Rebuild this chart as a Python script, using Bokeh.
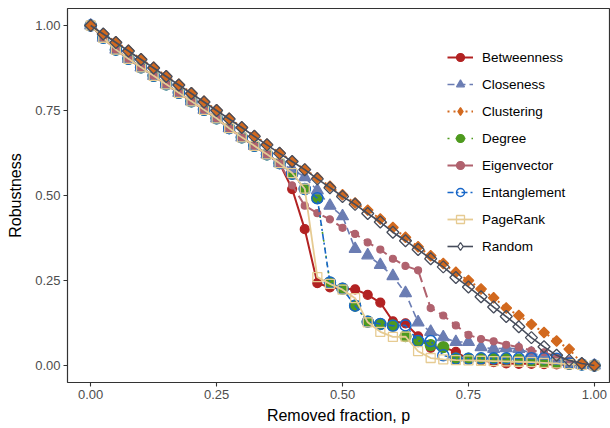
import math
from bokeh.plotting import figure
from bokeh.models import Legend, LegendItem, Range1d, FixedTicker, ColumnDataSource
from bokeh.embed import file_html
from bokeh.resources import INLINE

# Removed fraction grid
removed = [0.0, 0.025, 0.05, 0.075, 0.1, 0.125, 0.15, 0.175, 0.2, 0.225,
           0.25, 0.275, 0.3, 0.325, 0.35, 0.375, 0.4, 0.425, 0.45, 0.475,
           0.5, 0.525, 0.55, 0.575, 0.6, 0.625, 0.65, 0.675, 0.7, 0.725,
           0.75, 0.775, 0.8, 0.825, 0.85, 0.875, 0.9, 0.925, 0.95, 0.975, 1.0]

# shared early part of the targeted attacks (p = 0 .. 0.375)
early = [1.0, 0.964, 0.929, 0.902, 0.877, 0.852, 0.827, 0.802, 0.777, 0.752,
         0.727, 0.698, 0.671, 0.646, 0.621, 0.595]

betweenness = early + [0.519, 0.401, 0.242, 0.230, 0.226, 0.224, 0.208, 0.185, 0.130, 0.124,
                       0.086, 0.052, 0.054, 0.040, 0.018, 0.015, 0.010, 0.006, 0.005, 0.005,
                       0.004, 0.003, 0.002, 0.001, 0.0]
closeness = early + [0.578, 0.554, 0.515, 0.470, 0.439, 0.343, 0.324, 0.296, 0.263, 0.213,
                     0.127, 0.099, 0.083, 0.069, 0.069, 0.054, 0.049, 0.051, 0.049, 0.036,
                     0.029, 0.015, 0.005, 0.002, 0.0]
clustering = [1.0, 0.976, 0.952, 0.927, 0.902, 0.877, 0.852, 0.827, 0.802, 0.777,
              0.752, 0.727, 0.701, 0.676, 0.651, 0.626, 0.601, 0.577, 0.552, 0.527,
              0.502, 0.478, 0.457, 0.431, 0.406, 0.377, 0.349, 0.323, 0.300, 0.274,
              0.250, 0.225, 0.199, 0.169, 0.147, 0.121, 0.097, 0.072, 0.048, 0.006, 0.0]
degree = early + [0.564, 0.519, 0.492, 0.244, 0.226, 0.176, 0.129, 0.122, 0.118, 0.086,
                  0.072, 0.060, 0.054, 0.021, 0.020, 0.020, 0.021, 0.020, 0.017, 0.015,
                  0.012, 0.010, 0.005, 0.003, 0.0]
eigenvector = early + [0.530, 0.470, 0.448, 0.430, 0.405, 0.387, 0.362, 0.341, 0.314, 0.293,
                       0.280, 0.169, 0.147, 0.118, 0.090, 0.078, 0.071, 0.061, 0.054, 0.044,
                       0.039, 0.025, 0.015, 0.007, 0.0]
entanglement = early + [0.564, 0.519, 0.492, 0.244, 0.226, 0.176, 0.129, 0.122, 0.117, 0.118,
                        0.072, 0.072, 0.030, 0.020, 0.020, 0.021, 0.021, 0.021, 0.021, 0.021,
                        0.021, 0.020, 0.006, 0.003, 0.0]
pagerank = early + [0.566, 0.520, 0.260, 0.240, 0.223, 0.198, 0.127, 0.099, 0.084, 0.085,
                    0.042, 0.022, 0.018, 0.016, 0.015, 0.014, 0.013, 0.012, 0.011, 0.010,
                    0.008, 0.006, 0.004, 0.002, 0.0]
random_ = [1.0, 0.975, 0.95, 0.925, 0.9, 0.875, 0.85, 0.825, 0.8, 0.775,
           0.75, 0.725, 0.7, 0.674, 0.649, 0.624, 0.6, 0.576, 0.549, 0.523,
           0.497, 0.474, 0.447, 0.422, 0.392, 0.367, 0.341, 0.314, 0.290, 0.259,
           0.231, 0.202, 0.172, 0.144, 0.114, 0.082, 0.055, 0.030, 0.015, 0.006, 0.0]

ticks = [0.0, 0.25, 0.5, 0.75, 1.0]
tick_labels = {0.0: "0.00", 0.25: "0.25", 0.5: "0.50", 0.75: "0.75", 1.0: "1.00"}

FONT = "Liberation Sans"

p = figure(width=610, height=427, output_backend="svg", toolbar_location=None,
           x_range=Range1d(-0.046, 1.030), y_range=Range1d(-0.05, 1.05),
           min_border_left=67, min_border_right=1, min_border_top=8, min_border_bottom=45)
p.xgrid.visible = False
p.ygrid.visible = False
p.outline_line_color = "#333333"
p.outline_line_width = 1.2
p.background_fill_color = "white"
p.border_fill_color = "white"

for ax in (p.xaxis[0], p.yaxis[0]):
    ax.ticker = FixedTicker(ticks=ticks)
    ax.major_label_overrides = tick_labels
    ax.axis_line_color = None
    ax.major_tick_out = 4
    ax.major_tick_in = 0
    ax.minor_tick_line_color = None
    ax.major_tick_line_color = "#333333"
    ax.major_tick_line_width = 1.1
    ax.major_label_text_font = FONT
    ax.major_label_text_font_size = "13px"
    ax.major_label_text_color = "#4D4D4D"
    ax.major_label_standoff = 3
    ax.axis_label_text_font = FONT
    ax.axis_label_text_font_size = "16px"
    ax.axis_label_text_font_style = "normal"
    ax.axis_label_text_color = "black"
p.xaxis.axis_label_standoff = 5
p.yaxis.axis_label_standoff = 8

p.xaxis.axis_label = "Removed fraction, p"
p.yaxis.axis_label = "Robustness"

series = {}

def add(name, ys, color, dash, marker, size, fill, lw=1.6, mlw=1.2, angle=0.0, legend_marker=None):
    src = ColumnDataSource(dict(x=removed, y=ys))
    l = p.line("x", "y", source=src, line_color=color, line_width=lw, line_dash=dash)
    s = p.scatter("x", "y", source=src, marker=marker, size=size, line_color=color,
                  fill_color=fill, line_width=mlw, angle=angle)
    if legend_marker is None:
        series[name] = [l, s]
    else:
        # marker used only for the legend key (its single point is NaN, so nothing is drawn)
        key_src = ColumnDataSource(dict(x=[float("nan")], y=[float("nan")]))
        lk = p.scatter("x", "y", source=key_src, marker=legend_marker, size=size, line_color=color,
                       fill_color=fill if fill is not None else "white", line_width=mlw)
        series[name] = [l, lk]

add("Betweenness", betweenness, "#B22222", "solid", "circle", 9, "#B22222", lw=2.0)
add("Degree", degree, "#4E9A1E", "2 6", "circle", 11, "#4E9A1E")
add("Closeness", closeness, "#6B7DB3", "7 4", "triangle", 12, "#6B7DB3")
add("Eigenvector", eigenvector, "#B0626E", "11 5", "circle", 7, "#B0626E", lw=2.0)
add("Entanglement", entanglement, "#1766C8", "6 3 2 3", "circle", 11, None, lw=1.6, mlw=1.5)
add("PageRank", pagerank, "#E6CB92", "solid", "square", 9, None, lw=1.8, mlw=1.3)
add("Clustering", clustering, "#D2691E", "2 4", "square", 7.5, "#D2691E", lw=2.0,
    angle=math.pi / 4, legend_marker="diamond")
add("Random", random_, "#474D5C", "solid", "square", 8.5, None, lw=1.6, mlw=1.3,
    angle=math.pi / 4, legend_marker="diamond")

order = ["Betweenness", "Closeness", "Clustering", "Degree", "Eigenvector",
         "Entanglement", "PageRank", "Random"]
items = [LegendItem(label=n, renderers=series[n]) for n in order]
legend = Legend(items=items, location=(380, 126), orientation="vertical",
                glyph_width=26, glyph_height=20, spacing=7, padding=0, margin=0,
                label_standoff=9, label_text_font=FONT, label_text_font_size="13.5px",
                label_text_color="black", border_line_color=None,
                background_fill_alpha=0.0, label_height=20)
p.add_layout(legend, "center")

open("out.html", "w").write(file_html(p, INLINE))
